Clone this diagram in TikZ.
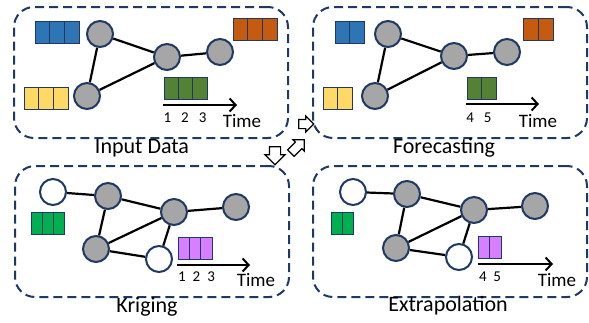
\documentclass[tikz,border=0pt]{standalone}
\usepackage{fontspec}
\setmainfont{Carlito}
\usetikzlibrary{shapes.geometric, shapes.arrows, arrows.meta, calc}
\definecolor{navy}{HTML}{1F3864}
\definecolor{nodegray}{HTML}{A6A6A6}
\definecolor{sblue}{HTML}{2E75B6}
\definecolor{sorange}{HTML}{C55A11}
\definecolor{syellow}{HTML}{FFD966}
\definecolor{sgreen}{HTML}{548235}
\definecolor{bgreen}{HTML}{00B050}
\definecolor{spurple}{HTML}{D780FF}
\tikzstyle{panel} = [rectangle, rounded corners=20pt, draw=navy, line width=2pt, dash pattern=on 9pt off 5pt, minimum width=274pt, minimum height=131pt]
\tikzstyle{station} = [circle, draw=navy, line width=2pt, fill=nodegray, minimum size=26pt, inner sep=0pt]
\tikzstyle{unknown} = [station, fill=white]
\tikzstyle{link} = [line width=2.2pt]
\tikzstyle{timeline} = [line width=2pt, -{Straight Barb[length=6pt,width=13pt,line width=2pt]}]
\tikzstyle{caption} = [font=\fontsize{22}{26}\selectfont]
\tikzstyle{timelabel} = [font=\fontsize{19}{22}\selectfont]
\tikzstyle{steps} = [font=\fontsize{15}{18}\selectfont, inner sep=0pt]
\tikzstyle{flow} = [single arrow, draw=black, fill=white, line width=1.2pt, inner sep=4pt, single arrow head extend=3.5pt]

% name, north west corner, cells, cell width, colour
\newcommand{\cellrow}[5]{%
  \node (#1) [rectangle, anchor=north west, draw=navy, line width=1pt, fill=#5, minimum width=#3*#4pt, minimum height=22pt, inner sep=0pt] at (#2) {};
  \pgfmathtruncatemacro{\lastcell}{#3-1}
  \foreach \k in {1,...,\lastcell}
    \draw [navy, line width=1pt] ($(#1.north west)+(\k*#4,0)$) -- ($(#1.south west)+(\k*#4,0)$);
}

\begin{document}
\begin{tikzpicture}[x=1pt, y=-1pt]
\useasboundingbox (0,0) rectangle (589,322);

% panels
\node (input_box) [panel] at (151,72.5) {};
\node (forecast_box) [panel] at (450,72.5) {};
\node (kriging_box) [panel] at (152,231.5) {};
\node (extra_box) [panel] at (450,231.5) {};

\node (input_cap) [caption] at (142,148) {Input Data};
\node (forecast_cap) [caption] at (444,148) {Forecasting};
\node (kriging_cap) [caption] at (147,307) {Kriging};
\node (extra_cap) [caption] at (448,306) {Extrapolation};

% input data
\node (in_a) [station] at (100,34) {};
\node (in_b) [station] at (167,57) {};
\node (in_c) [station] at (220,52) {};
\node (in_d) [station] at (87,96) {};
\draw [link] (in_a) -- (in_d);
\draw [link] (in_a) -- (in_b);
\draw [link] (in_b) -- (in_c);
\draw [link] (in_b) -- (in_d);

\cellrow{in_blue}{35,21}{3}{14.7}{sblue}
\cellrow{in_orange}{233,18}{3}{14.7}{sorange}
\cellrow{in_yellow}{24,87}{3}{14.7}{syellow}
\cellrow{in_green}{164,77}{3}{14.4}{sgreen}

\coordinate (in_t0) at (163,105);
\coordinate (in_t1) at (237,105);
\draw [timeline] (in_t0) -- (in_t1);
\node (in_steps) [steps] at (185,118) {1\hspace{10pt}2\hspace{10pt}3};
\node (in_time) [timelabel] at (242,121) {Time};

% forecasting
\node (fc_a) [station] at (388,34) {};
\node (fc_b) [station] at (454,56) {};
\node (fc_c) [station] at (507,52) {};
\node (fc_d) [station] at (375,96) {};
\draw [link] (fc_a) -- (fc_d);
\draw [link] (fc_a) -- (fc_b);
\draw [link] (fc_b) -- (fc_c);
\draw [link] (fc_b) -- (fc_d);

\cellrow{fc_blue}{335,21}{2}{14.5}{sblue}
\cellrow{fc_orange}{523,18}{2}{15}{sorange}
\cellrow{fc_yellow}{323,87}{2}{14.5}{syellow}
\cellrow{fc_green}{467,77}{2}{14.5}{sgreen}

\coordinate (fc_t0) at (466,104);
\coordinate (fc_t1) at (539,104);
\draw [timeline] (fc_t0) -- (fc_t1);
\node (fc_steps) [steps] at (479,118) {4\hspace{10pt}5};
\node (fc_time) [timelabel] at (538,121) {Time};

% kriging
\node (kr_e) [unknown] at (53,192) {};
\node (kr_f) [station] at (108,196) {};
\node (kr_g) [station] at (174,212) {};
\node (kr_h) [station] at (236,207) {};
\node (kr_i) [station] at (96,249) {};
\node (kr_j) [unknown] at (159,259) {};
\draw [link] (kr_e) -- (kr_f);
\draw [link] (kr_f) -- (kr_g);
\draw [link] (kr_g) -- (kr_h);
\draw [link] (kr_f) -- (kr_i);
\draw [link] (kr_i) -- (kr_g);
\draw [link] (kr_i) -- (kr_j);
\draw [link] (kr_j) -- (kr_g);

\cellrow{kr_green}{31,212}{3}{11}{bgreen}
\cellrow{kr_purple}{178,237}{3}{11.3}{spurple}

\coordinate (kr_t0) at (177,265);
\coordinate (kr_t1) at (250,265);
\draw [timeline] (kr_t0) -- (kr_t1);
\node (kr_steps) [steps] at (196.5,277) {1\hspace{7pt}2\hspace{7pt}3};
\node (kr_time) [timelabel] at (256,280) {Time};

% extrapolation
\node (ex_e) [unknown] at (353,192) {};
\node (ex_f) [station] at (407,194) {};
\node (ex_g) [station] at (474,210) {};
\node (ex_h) [station] at (535,206) {};
\node (ex_i) [station] at (396,248) {};
\node (ex_j) [unknown] at (459,257) {};
\draw [link] (ex_e) -- (ex_f);
\draw [link] (ex_f) -- (ex_g);
\draw [link] (ex_g) -- (ex_h);
\draw [link] (ex_f) -- (ex_i);
\draw [link] (ex_i) -- (ex_g);
\draw [link] (ex_i) -- (ex_j);
\draw [link] (ex_j) -- (ex_g);

\cellrow{ex_green}{331,212}{2}{11}{bgreen}
\cellrow{ex_purple}{478,236}{2}{11.5}{spurple}

\coordinate (ex_t0) at (478,264);
\coordinate (ex_t1) at (553,264);
\draw [timeline] (ex_t0) -- (ex_t1);
\node (ex_steps) [steps] at (490,277) {4\hspace{6.5pt}5};
\node (ex_time) [timelabel] at (557,280) {Time};

% block arrows between panels
\node (to_forecast) [flow, minimum height=15pt] at (304,124) {};
\node (to_extra) [flow, minimum height=19pt, rotate=45] at (296,148) {};
\node (to_kriging) [flow, minimum height=18pt, inner sep=5pt, single arrow head extend=4.5pt, rotate=-90] at (275,153) {};

\end{tikzpicture}
\end{document}
